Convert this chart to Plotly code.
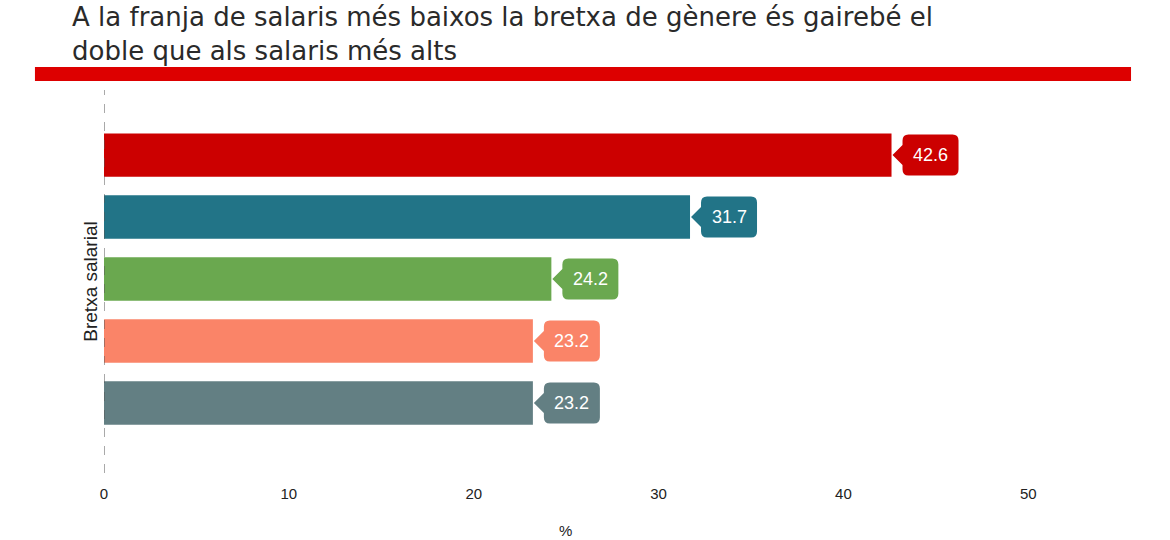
import plotly.graph_objects as go

# dades
franges = ["franja 1", "franja 2", "franja 3", "franja 4", "franja 5"]
bretxa = [42.6, 31.7, 24.2, 23.2, 23.2]
colors = ["#CC0000", "#227487", "#6AA84F", "#FA8468", "#637F83"]
tick_vals = [0, 10, 20, 30, 40, 50]

title_text = ("A la franja de salaris més baixos la bretxa de gènere és gairebé el<br>"
              "doble que als salaris més alts")

fig = go.Figure()
fig.add_trace(go.Bar(x=bretxa, y=franges, orientation="h", width=0.7,
                     marker=dict(color=colors, line=dict(width=0)),
                     hoverinfo="x", showlegend=False))

# callout: fletxa + caixa arrodonida (pixels relatius al final de la barra)
callout = ("M 1 0 L 11 10 L 11 14.5 Q 11 20.5 17 20.5 L 61 20.5 Q 67 20.5 67 14.5 "
           "L 67 -14.5 Q 67 -20.5 61 -20.5 L 17 -20.5 Q 11 -20.5 11 -14.5 L 11 -10 Z")
for v, f, c in zip(bretxa, franges, colors):
    fig.add_shape(type="path", path=callout, xsizemode="pixel", ysizemode="pixel",
                  xanchor=v, yanchor=f, xref="x", yref="y",
                  fillcolor=c, line=dict(width=0), layer="above")
    fig.add_annotation(x=v, y=f, text=str(v), showarrow=False, xshift=39,
                       font=dict(color="white", size=18, family="Liberation Sans"))

# linia discontinua a zero
fig.add_shape(type="line", x0=0, x1=0, y0=0, y1=1, xref="x", yref="paper",
              line=dict(color="#555555", width=1, dash="dash"), layer="above")

# franja vermella sota el títol
fig.add_shape(type="rect", x0=-0.0673, x1=1.001, y0=1.0235, y1=1.060,
              xref="paper", yref="paper", fillcolor="#DD0000", line=dict(width=0))

fig.add_annotation(text=title_text, xref="paper", yref="paper", x=-0.0331, y=1.235,
                   xanchor="left", yanchor="top", align="left", showarrow=False,
                   font=dict(size=26, color="#2a2a2a", family="DejaVu Sans"))

# títol de l'eix x
fig.add_annotation(text="%", xref="paper", yref="paper", x=0.450, y=-0.1514,
                   xanchor="center", yanchor="middle", showarrow=False,
                   font=dict(size=15, color="#222222"))

fig.update_layout(
    width=1170, height=540,
    margin=dict(l=104, r=40, t=90, b=67),
    plot_bgcolor="white", paper_bgcolor="white",
    font=dict(family="Liberation Sans", color="#222222"),
    bargap=0.3,
    xaxis=dict(range=[0, 55.5], tickvals=tick_vals, showgrid=False, zeroline=False,
               showline=False, ticks="", tickfont=dict(size=15, color="#222222"),
               ticklabelstandoff=10, automargin=False),
    yaxis=dict(type="category", range=[5.13, -1.05], showticklabels=False,
               showgrid=False, zeroline=False, ticks="", automargin=False,
               title=dict(text="Bretxa salarial", font=dict(size=19), standoff=0)),
)

fig.write_html("out.html", config={"displayModeBar": False},
               post_script="document.body.style.margin='0';")
